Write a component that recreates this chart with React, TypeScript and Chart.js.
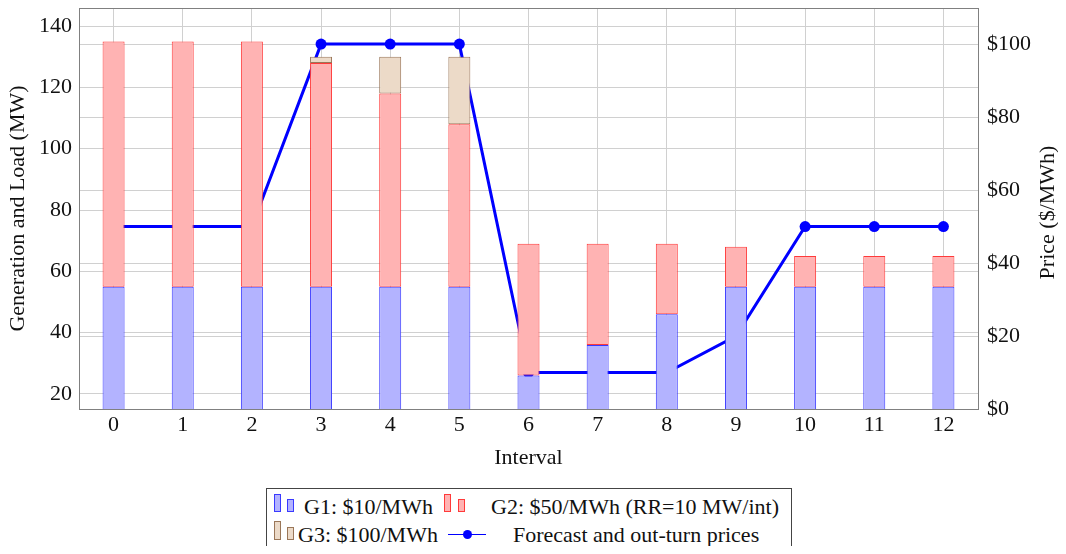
import React, { useEffect, useRef } from 'react';
import { Chart, registerables } from 'chart.js';
Chart.register(...registerables);

const FONT = "'Liberation Serif', 'DejaVu Serif', 'Times New Roman', serif";
const FS = 22;

const intervals = ['0', '1', '2', '3', '4', '5', '6', '7', '8', '9', '10', '11', '12'];
const g1Values = [55, 55, 55, 55, 55, 55, 26, 36, 46, 55, 55, 55, 55];
const g2Values = [80, 80, 80, 73, 63, 53, 43, 33, 23, 13, 10, 10, 10];
const g3Values = [0, 0, 0, 2, 12, 22, 0, 0, 0, 0, 0, 0, 0];
const prices = [50, 50, 50, 100, 100, 100, 10, 10, 10, 20, 50, 50, 50];
const loadTicks = [20, 40, 60, 80, 100, 120, 140];
const priceTicks = [0, 20, 40, 60, 80, 100];

const G1_FILL = '#b3b3ff';
const G1_BORDER = '#3a3aff';
const G2_FILL = '#ffb3b3';
const G2_BORDER = '#ff3a3a';
const G3_FILL = '#ecdac8';
const G3_BORDER = '#9a7658';
const GRID = '#d0d0d0';
const FRAME = '#808080';
const TEXT = '#111';

export default function App() {
  const ref = useRef<HTMLCanvasElement>(null);

  useEffect(() => {
    if (!ref.current) return;
    const framePlugin = {
      id: 'framePlugin',
      afterDraw(chart: any) {
        const { ctx, chartArea } = chart;
        const { left, right, top, bottom } = chartArea;
        ctx.save();
        ctx.strokeStyle = FRAME;
        ctx.lineWidth = 1;
        ctx.strokeRect(Math.round(left) + 0.5, Math.round(top) + 0.5, Math.round(right - left), Math.round(bottom - top));
        // right axis title, reading bottom-to-top
        ctx.fillStyle = TEXT;
        ctx.font = `${FS}px ${FONT}`;
        ctx.textAlign = 'center';
        ctx.textBaseline = 'middle';
        ctx.translate(1048, (top + bottom) / 2 + 4);
        ctx.rotate(-Math.PI / 2);
        ctx.fillText('Price ($/MWh)', 0, 0);
        ctx.restore();
      },
    };

    const barCommon = {
      type: 'bar',
      borderWidth: 1,
      borderSkipped: false,
      yAxisID: 'y',
      stack: 'gen',
      order: 1,
      barPercentage: 0.318,
      categoryPercentage: 1,
    };

    const chart = new Chart(ref.current, {
      type: 'bar',
      data: {
        labels: intervals,
        datasets: [
          { ...barCommon, label: 'G1: $10/MWh', data: g1Values, backgroundColor: G1_FILL, borderColor: G1_BORDER },
          { ...barCommon, label: 'G2: $50/MWh (RR=10 MW/int)', data: g2Values, backgroundColor: G2_FILL, borderColor: G2_BORDER },
          { ...barCommon, label: 'G3: $100/MWh', data: g3Values, backgroundColor: G3_FILL, borderColor: G3_BORDER },
          {
            type: 'line',
            label: 'Forecast and out-turn prices',
            data: prices,
            borderColor: '#0000ff',
            backgroundColor: '#0000ff',
            borderWidth: 3,
            pointRadius: 5.5,
            pointBorderWidth: 0,
            pointBackgroundColor: '#0000ff',
            tension: 0,
            yAxisID: 'y1',
            order: 2,
          },
        ] as any,
      },
      options: {
        animation: false,
        responsive: false,
        events: [],
        layout: { padding: { top: 8, left: 5, right: 0, bottom: 83 } },
        plugins: {
          legend: { display: false },
          tooltip: { enabled: false },
        },
        scales: {
          x: {
            type: 'category',
            stacked: true,
            offset: true,
            grid: { display: true, offset: false, color: GRID, drawTicks: false },
            border: { display: false },
            ticks: { color: TEXT, font: { family: FONT, size: FS }, padding: 3, maxRotation: 0 },
            title: { display: true, text: 'Interval', color: TEXT, font: { family: FONT, size: FS }, padding: 0 },
            afterFit(scale: any) { scale.height = 62; scale.paddingLeft = 0; scale.paddingRight = 0; },
          },
          y: {
            type: 'linear',
            position: 'left',
            stacked: true,
            min: 15.1,
            max: 145.9,
            grid: { color: GRID, drawTicks: false },
            border: { display: false },
            ticks: { color: TEXT, font: { family: FONT, size: FS }, padding: 7 },
            afterBuildTicks(scale: any) { scale.ticks = loadTicks.map((v) => ({ value: v })); },
            title: { display: true, text: 'Generation and Load (MW)', color: TEXT, font: { family: FONT, size: FS }, padding: 0 },
            afterFit(scale: any) { scale.width = 74; scale.paddingTop = 0; scale.paddingBottom = 0; },
          },
          y1: {
            type: 'linear',
            position: 'right',
            min: 0,
            max: 109.9,
            grid: { color: GRID, drawTicks: false },
            border: { display: false },
            ticks: { color: TEXT, font: { family: FONT, size: FS }, padding: 9, callback: (v: any) => '$' + v },
            afterBuildTicks(scale: any) { scale.ticks = priceTicks.map((v) => ({ value: v })); },
            afterFit(scale: any) { scale.width = 88; scale.paddingTop = 0; scale.paddingBottom = 0; },
          },
        },
      } as any,
      plugins: [framePlugin],
    });
    return () => chart.destroy();
  }, []);

  const text = (x: number, top: number, s: string) => (
    <div style={{ position: 'absolute', left: x, top, whiteSpace: 'nowrap', font: `${FS}px ${FONT}`, lineHeight: '25px', color: TEXT }}>{s}</div>
  );
  const rect = (x: number, y: number, w: number, h: number, fill: string, border: string) => (
    <div style={{ position: 'absolute', left: x, top: y, width: w - 2, height: h - 2, background: fill, border: `1px solid ${border}` }} />
  );

  return (
    <div style={{ position: 'relative', width: 1050, height: 538 }}>
      <div style={{ position: 'absolute', left: -8, top: -8, width: 1066, height: 554, overflow: 'hidden' }}>
        <canvas ref={ref} width={1066} height={554} style={{ position: 'absolute', left: 0, top: 0 }} />
        <div style={{ position: 'absolute', left: 266, top: 488, width: 524, height: 70, border: '1px solid #444', background: '#fff' }} />
        {rect(274, 494, 7, 18, G1_FILL, G1_BORDER)}
        {rect(287, 499, 7, 13, G1_FILL, G1_BORDER)}
        {text(304, 494, 'G1: $10/MWh')}
        {rect(444, 494, 7, 18, G2_FILL, G2_BORDER)}
        {rect(458, 499, 7, 13, G2_FILL, G2_BORDER)}
        {text(491, 494, 'G2: $50/MWh (RR=10 MW/int)')}
        {rect(274, 521, 7, 19, G3_FILL, G3_BORDER)}
        {rect(287, 527, 7, 13, G3_FILL, G3_BORDER)}
        {text(298, 522, 'G3: $100/MWh')}
        <div style={{ position: 'absolute', left: 448, top: 534, width: 38, height: 1, background: '#0000ff' }} />
        <div style={{ position: 'absolute', left: 463, top: 530, width: 9, height: 9, borderRadius: '50%', background: '#0000ff' }} />
        {text(513, 522, 'Forecast and out-turn prices')}
      </div>
    </div>
  );
}
